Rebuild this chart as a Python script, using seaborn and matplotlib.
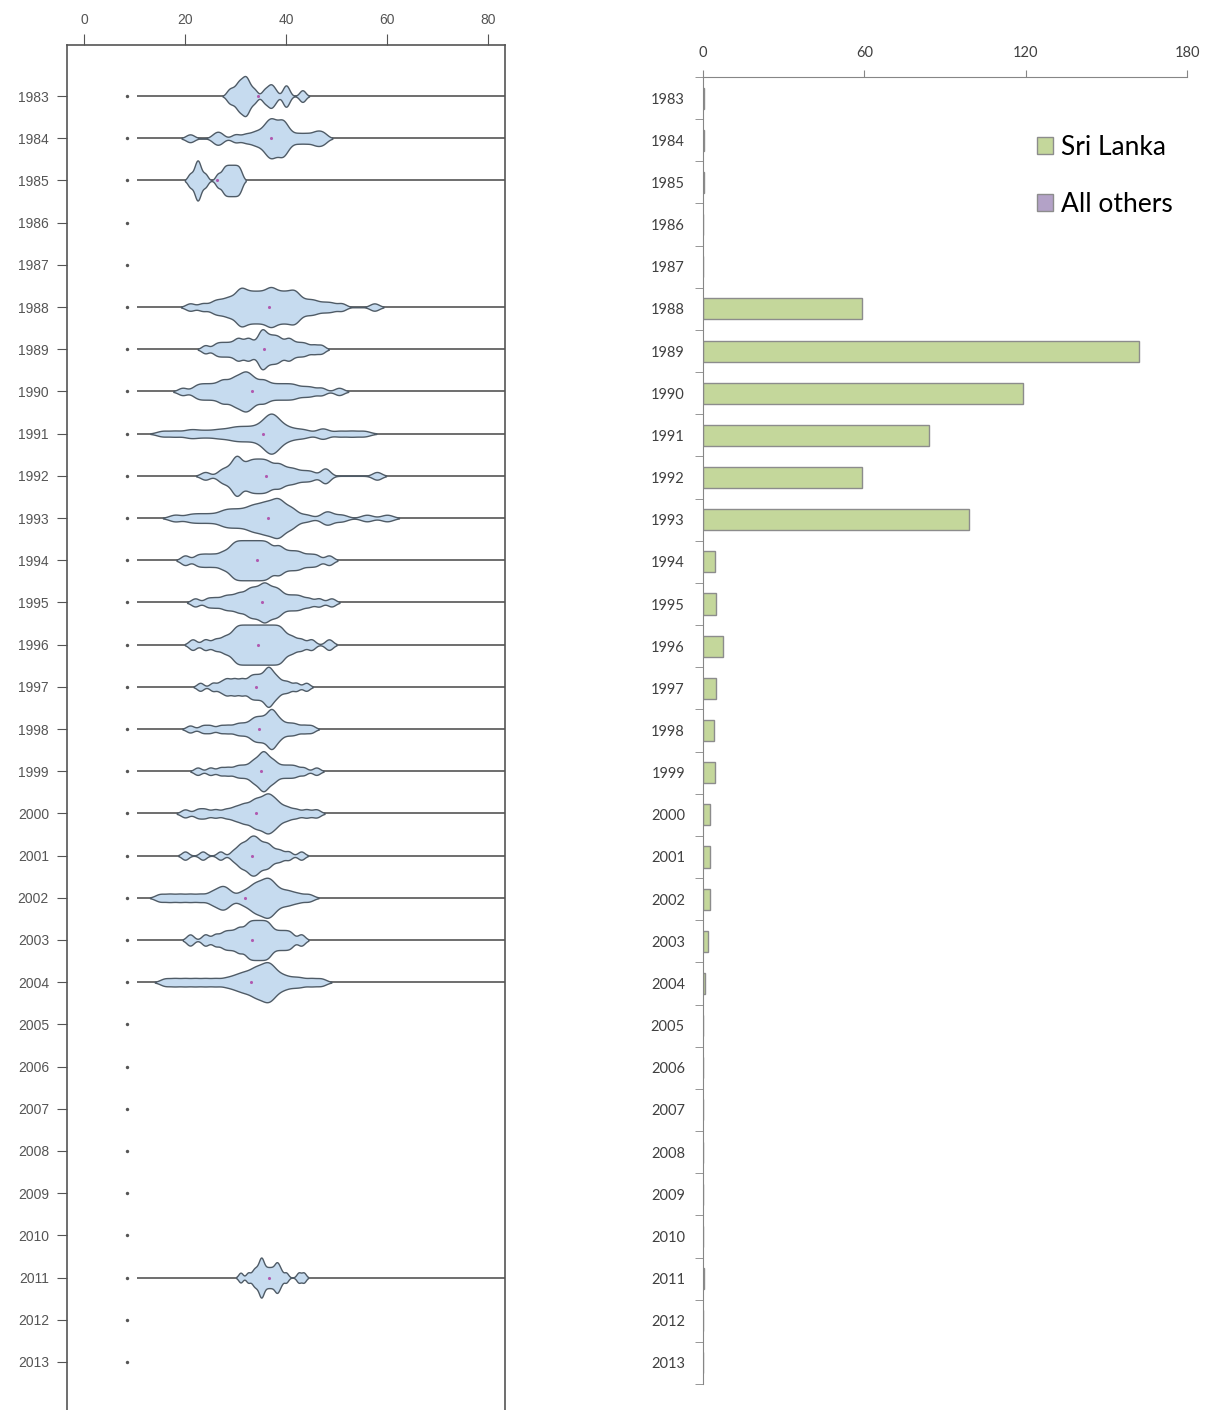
import numpy as np
import pandas as pd
import matplotlib
matplotlib.use("Agg")
import matplotlib.pyplot as plt
import seaborn as sns
from matplotlib.patches import Patch

# years shown on both panels
years = [str(y) for y in range(1983, 2014)]

ages_1983 = [28.5, 29, 29.5, 30, 30.5, 30.5, 31, 31, 31.5, 31.5, 32, 32, 32, 32.5,
             32.5, 33, 33.5, 34, 35.5, 36, 36.5, 37, 37, 37.5, 38, 39.5, 40, 40, 40.5,
             43, 43.5]
ages_1984 = [21, 26, 27, 30, 32, 33.5, 34.5, 35.5, 36, 36.5, 37, 37, 37.5, 38, 38.5,
             39, 39.5, 39.5, 40, 41, 42.5, 44, 45.5, 46.5, 47.5]
ages_1985 = [21, 22, 22.5, 22.5, 23, 24, 26.5, 27.5, 28, 28.5, 29, 29.5, 30, 30.5, 31]
ages_1988 = [21, 23.5, 25.5, 26.5, 27.5, 28.5, 29, 30, 30.5, 31, 31, 31.5, 32, 32.5,
             33, 33.5, 34, 34.5, 35, 35.5, 36, 36.5, 37, 37, 37.5, 38, 38.5, 39, 39.5,
             40, 40.5, 41, 41.5, 42, 42, 43, 44, 45, 46, 47.5, 49, 51, 57.5]
ages_1989 = [24, 26, 27, 28, 29, 30, 30.5, 31, 32, 32.5, 33, 34, 35, 35, 35.2, 35.5,
             36, 36.5, 37, 37.5, 38, 38.5, 39, 40, 40.5, 41, 42, 43, 44, 45.5, 47]
ages_1990 = [19.5, 22, 23, 24, 25, 26, 27, 27.5, 28, 29, 29.5, 30, 30.5, 31, 31.5,
             32, 32, 32.5, 33, 33.5, 34, 35, 35.5, 36, 37, 38, 39, 40, 41, 42, 43.5,
             45, 47, 50.5]
ages_1991 = [15.5, 18, 20.5, 22, 24, 26, 27.5, 29, 30, 31, 32, 33, 34, 35, 35.5, 36,
             36.5, 37, 37, 37.2, 37.5, 38, 38.5, 39, 40, 41, 42.5, 44, 47, 47.5, 50.5,
             53, 55.5]
ages_1992 = [24, 27, 28, 29, 30, 30, 30.2, 30.5, 31, 32, 32.5, 33, 33.5, 34, 34.5, 35,
             35.5, 36, 36.5, 37, 38, 38.5, 39, 40, 41, 42, 43.5, 45, 47.5, 48, 58]
ages_1993 = [18, 21, 23, 25, 27, 28, 29, 30, 31, 32, 33, 33.5, 34, 35, 35.5, 36, 36.5,
             37, 38, 38.3, 38.5, 38.7, 39, 40.5, 41, 41.5, 44, 48, 48.2, 51, 56, 60]
ages_1994 = [20, 22.5, 24, 25.5, 27, 28, 29, 29.5, 30, 30.5, 31, 31.5, 32, 32.5, 33,
             33.5, 34, 34.5, 35, 35.5, 36, 36.5, 37, 38, 38.5, 39, 40, 41, 42, 43,
             44.5, 46, 48.5]
ages_1995 = [22, 24.5, 26, 27.5, 28.5, 29.5, 30.5, 31, 32, 32.5, 33, 33.5, 34, 34.5,
             35, 35.5, 35.7, 36, 36.5, 37, 37.5, 38, 38.5, 39, 40, 41, 42, 43, 44.5,
             46.5, 49]
ages_1996 = [21.5, 24, 26, 27.5, 28.5, 29.5, 30, 30.5, 31, 31.5, 32, 32.5, 33, 33.5,
             34, 34.5, 35, 35.5, 36, 36.5, 37, 37.5, 38, 38.5, 39, 39.5, 40.5, 41.5,
             43, 45, 48.5]
ages_1997 = [23, 25.5, 27, 28, 28.5, 29.5, 30, 31, 31.5, 32.5, 33, 33.5, 34, 34.5, 35,
             35.5, 36, 36.2, 36.5, 36.8, 37, 37.5, 38, 38.5, 39.5, 40.5, 42, 44]
ages_1998 = [21, 23.5, 25, 27, 28.5, 30, 31, 32, 33, 33.5, 34, 34.5, 35, 35.5, 36,
             36.5, 37, 37, 37.2, 37.5, 38, 38.5, 39, 40, 41, 42, 43.5, 45]
ages_1999 = [22.5, 25, 27, 28.5, 30, 31, 32, 33, 33.5, 34, 34.5, 35, 35.2, 35.5, 35.8,
             36, 36.5, 37, 37.5, 38, 39, 40, 41, 42, 43.5, 46]
ages_2000 = [20, 22.5, 24, 26, 28, 29.5, 30.5, 31.5, 32, 33, 33.5, 34, 34.5, 35, 35.5,
             36, 36.3, 36.6, 37, 37.5, 38, 38.5, 39.5, 40.5, 42, 44, 46]
ages_2001 = [20, 23.5, 27, 29.5, 30.5, 31, 31.5, 32, 32.5, 33, 33, 33.5, 34, 34, 34.5,
             35, 35.5, 36, 36.5, 37, 38, 39, 40.5, 43]
ages_2002 = [15, 17, 19, 21, 23, 25, 26, 27, 27.5, 28, 29, 31, 32, 33, 33.5, 34, 34.5,
             35, 35.5, 36, 36.3, 36.6, 37, 37.5, 38, 39, 40, 41, 42.5, 44.5]
ages_2003 = [21, 24, 26, 27.5, 28.5, 29.5, 30.5, 31, 32, 32.5, 33, 33.5, 34, 34.5, 35,
             35.5, 36, 36.5, 37, 38, 39, 40, 41, 43]
ages_2004 = [16, 18, 20, 22, 24, 26, 28, 29.5, 30.5, 31.5, 32, 33, 33.5, 34, 34.5, 35,
             35.5, 36, 36.3, 36.6, 37, 37.5, 38, 39, 40, 41.5, 43, 45, 47]
ages_2011 = [31, 32.5, 33.5, 34, 34.5, 35, 35, 35.2, 35.5, 36, 36.5, 37, 37.5, 38, 38.2,
             38.5, 39, 40, 42.5, 43.5]

# bar counts per year (right panel)
sri_lanka = [0.4, 0.4, 0.4, 0, 0, 59, 162, 119, 84, 59, 99, 4.5, 5, 7.5, 5, 4, 4.5,
             2.5, 2.5, 2.5, 2, 0.8, 0, 0, 0, 0, 0, 0, 0.4, 0, 0]
all_others = [0] * len(years)

bean_data = {
    "1983": ages_1983, "1984": ages_1984, "1985": ages_1985, "1988": ages_1988,
    "1989": ages_1989, "1990": ages_1990, "1991": ages_1991, "1992": ages_1992,
    "1993": ages_1993, "1994": ages_1994, "1995": ages_1995, "1996": ages_1996,
    "1997": ages_1997, "1998": ages_1998, "1999": ages_1999, "2000": ages_2000,
    "2001": ages_2001, "2002": ages_2002, "2003": ages_2003, "2004": ages_2004,
    "2011": ages_2011,
}
df = pd.DataFrame([(yr, v) for yr, vals in bean_data.items() for v in vals],
                  columns=["year", "age"])

DOT_X = 8.5
LINE_START = 10.5
W, H = 1210, 1410

fig = plt.figure(figsize=(W / 100, H / 100), dpi=100)
ax1 = fig.add_axes([67 / W, 1 - 1413 / H, (505 - 67) / W, (1413 - 45) / H])
ax2 = fig.add_axes([703 / W, 1 - 1384 / H, (1187 - 703) / W, (1384 - 77) / H])

# ---- left: bean plot ----
pos = {yr: i for i, yr in enumerate(years)}
with_data = [pos[y] for y in bean_data]
ax1.hlines(with_data, LINE_START, 84, color="#555555", lw=1.2, zorder=1)
sns.violinplot(data=df, x="age", y="year", order=years, orient="h", ax=ax1,
               inner=None, cut=2, bw_adjust=0.25, gridsize=300, density_norm="width",
               width=0.95, color="#c6dbef", saturation=1, linecolor="#4f5b66",
               linewidth=1)
for coll in ax1.collections:
    coll.set_zorder(2)
means = df.groupby("year")["age"].mean()
ax1.scatter(means.values, [pos[y] for y in means.index], s=5, color="#b05ab0",
            zorder=3, linewidths=0)
ax1.scatter([DOT_X] * len(years), range(len(years)), s=6, color="#555555",
            zorder=3, linewidths=0)

ax1.set_xlim(-3.37, 83.37)
ax1.set_ylim(31.21, -1.21)
ax1.set_xticks([0, 20, 40, 60, 80])
ax1.xaxis.tick_top()
ax1.set_xlabel("")
ax1.set_ylabel("")
ax1.tick_params(axis="x", length=8, pad=5, color="#555555", labelcolor="#555555",
                labelsize=10)
ax1.tick_params(axis="y", length=7, pad=6, color="#555555", labelcolor="#555555",
                labelsize=10)
for lab in ax1.get_xticklabels() + ax1.get_yticklabels():
    lab.set_family("Liberation Sans")
for sp in ax1.spines.values():
    sp.set_color("#555555")
    sp.set_linewidth(1.2)

# ---- right: bar chart ----
sns.barplot(x=sri_lanka, y=years, order=years, orient="h", ax=ax2,
            color="#c4d79b", saturation=1, edgecolor="#8c8c8c", linewidth=1,
            width=0.5)
ax2.barh(range(len(years)), all_others, left=sri_lanka, height=0.5,
         color="#b3a2c7", linewidth=0)
ax2.set_xlim(0, 180)
ax2.set_ylim(30.5, -0.5)
ax2.set_xticks([0, 60, 120, 180])
ax2.xaxis.tick_top()
ax2.set_xlabel("")
ax2.set_ylabel("")
ax2.set_yticks(np.arange(-0.5, len(years)), minor=True)
ax2.tick_params(axis="x", length=5, pad=7, color="#868686", labelcolor="#404040",
                labelsize=10.5)
ax2.tick_params(axis="y", which="major", length=0, pad=13, labelcolor="#404040",
                labelsize=10.5)
ax2.tick_params(axis="y", which="minor", length=6, color="#868686")
for lab in ax2.get_xticklabels() + ax2.get_yticklabels():
    lab.set_family("Lato")
for side in ["right", "bottom"]:
    ax2.spines[side].set_visible(False)
for side in ["top", "left"]:
    ax2.spines[side].set_color("#868686")

handles = [Patch(facecolor="#c4d79b", edgecolor="#8c8c8c", label="Sri Lanka"),
           Patch(facecolor="#b3a2c7", edgecolor="#8c8c8c", label="All others")]
fig.legend(handles=handles, loc="upper left", bbox_to_anchor=(1037 / W, 1 - 135 / H),
           frameon=False, prop={"family": "Lato", "size": 19}, handlelength=0.6,
           handleheight=0.6, handletextpad=0.3, labelspacing=1.2, borderpad=0,
           borderaxespad=0)

fig.savefig("out.png", dpi=100)
